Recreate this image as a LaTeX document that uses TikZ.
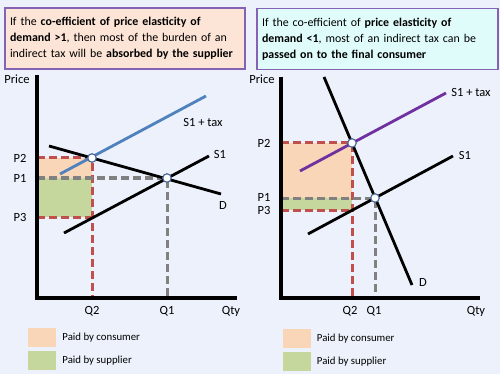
\documentclass[tikz,border=0pt]{standalone}
\usepackage{fontspec}
\setmainfont{Carlito}
\usetikzlibrary{positioning}

\definecolor{bgblue}{HTML}{ECF1FB}
\definecolor{boxpurple}{HTML}{8462B4}
\definecolor{peachbox}{HTML}{FCE4D6}
\definecolor{cyanbox}{HTML}{DFFCFB}
\definecolor{peach}{HTML}{F8D6B7}
\definecolor{sage}{HTML}{C5D79C}
\definecolor{dashred}{HTML}{C0504D}
\definecolor{dashgrey}{HTML}{808080}
\definecolor{taxblue}{HTML}{4F81BD}
\definecolor{taxpurple}{HTML}{7030A0}
\definecolor{pointblue}{HTML}{4A6A9A}

\begin{document}
\begin{tikzpicture}[x=1pt,y=-1pt,
    every node/.style={font=\fontsize{12.5}{14}\selectfont,inner sep=1pt},
    infobox/.style={draw=boxpurple,line width=1.5pt,align=left,minimum height=61pt,inner xsep=5pt,font=\fontsize{11.9}{16}\selectfont},
    axis/.style={line width=3.2pt},
    curve/.style={line width=2.8pt},
    reddash/.style={draw=dashred,line width=3pt,dash pattern=on 8pt off 4pt},
    greydash/.style={draw=dashgrey,line width=3pt,dash pattern=on 8pt off 4pt},
    eqpoint/.style={circle,draw=pointblue,fill=white,line width=1.2pt,inner sep=0pt,minimum size=8.5pt},
    key/.style={minimum width=28pt,minimum height=19pt,inner sep=0pt},
    keytext/.style={font=\fontsize{10.8}{12}\selectfont,right=5pt of #1,anchor=west}
]

\fill[bgblue] (0,0) rectangle (500,374);
\useasboundingbox (0,0) rectangle (500,374);

% Headings
\node[infobox,fill=peachbox,minimum width=240pt,text width=230pt] (elastic) at (125,38.5)
  {\hyphenpenalty=10000 If the \textbf{co-efficient of price elasticity of}\\
   \textbf{demand >1}, then most of the burden of an\\
   indirect tax will be \textbf{absorbed by the supplier}};
\node[infobox,fill=cyanbox,minimum width=241pt,text width=231pt] (inelastic) at (377.5,39)
  {If the co-efficient of \textbf{price elasticity of}\\
   \textbf{demand <1}, most of an indirect tax can be\\
   \textbf{passed on to the final consumer}};

% Left panel: elastic demand
\coordinate (lTop) at (37,75);
\coordinate (lO) at (37,298);
\coordinate (lEnd) at (237,298);
\coordinate (lE1) at (167,178);
\coordinate (lE2) at (92,158);

\fill[peach] (37,158) rectangle (92,178);
\fill[sage] (37,178) rectangle (92,217);

\draw[reddash] (37,158) -- (lE2) -- (92,298);
\draw[reddash] (37,217) -- (92,217);
\draw[greydash] (37,178) -- (lE1) -- (167,298);

\draw[axis] (lTop) -- (lO) -- (lEnd);

\draw[curve] (49,146) -- (221,194);
\draw[curve] (64,233) -- (209,156);
\draw[curve,taxblue] (60,174) -- (206,96);

\node[eqpoint] (lpt2) at (lE2) {};
\node[eqpoint] (lpt1) at (lE1) {};

\node (lprice) at (17,79) {Price};
\node (lp2) at (20,158) {P2};
\node (lp1) at (20,178) {P1};
\node (lp3) at (20,217) {P3};
\node (lq2) at (92,311) {Q2};
\node (lq1) at (167,311) {Q1};
\node (lqty) at (231,311) {Qty};
\node (ldlab) at (223,205) {D};
\node (lslab) at (220,154) {S1};
\node (ltaxlab) at (203,122) {S1 + tax};

% Right panel: inelastic demand
\coordinate (rTop) at (281,77);
\coordinate (rO) at (281,298);
\coordinate (rEnd) at (480,298);
\coordinate (rE1) at (375,198);
\coordinate (rE2) at (352,143);

\fill[peach] (281,143) rectangle (352,198);
\fill[sage] (281,198) rectangle (352,210);

\draw[reddash] (281,143) -- (rE2) -- (352,298);
\draw[reddash] (281,210) -- (352,210);
\draw[greydash] (281,198) -- (rE1) -- (375,298);

\draw[axis] (rTop) -- (rO) -- (rEnd);

\draw[curve] (324,77) -- (412,285);
\draw[curve] (308,234) -- (453,156);
\draw[curve,taxpurple] (300,171) -- (446,93);

\node[eqpoint] (rpt2) at (rE2) {};
\node[eqpoint] (rpt1) at (rE1) {};

\node (rprice) at (262,79) {Price};
\node (rp2) at (264,143) {P2};
\node (rp1) at (264,197) {P1};
\node (rp3) at (264,210) {P3};
\node (rq2) at (350,311) {Q2};
\node (rq1) at (374,311) {Q1};
\node (rqty) at (476,311) {Qty};
\node (rdlab) at (423,282) {D};
\node (rslab) at (465,155) {S1};
\node (rtaxlab) at (471,92) {S1 + tax};

% Keys
\node[key,fill=peach] (lkeyc) at (42,337.5) {};
\node[key,fill=sage,below=4pt of lkeyc] (lkeys) {};
\node[keytext=lkeyc] {Paid by consumer};
\node[keytext=lkeys] {Paid by supplier};

\node[key,fill=peach] (rkeyc) at (296.5,338.5) {};
\node[key,fill=sage,below=4pt of rkeyc] (rkeys) {};
\node[keytext=rkeyc] {Paid by consumer};
\node[keytext=rkeys] {Paid by supplier};

\end{tikzpicture}
\end{document}
